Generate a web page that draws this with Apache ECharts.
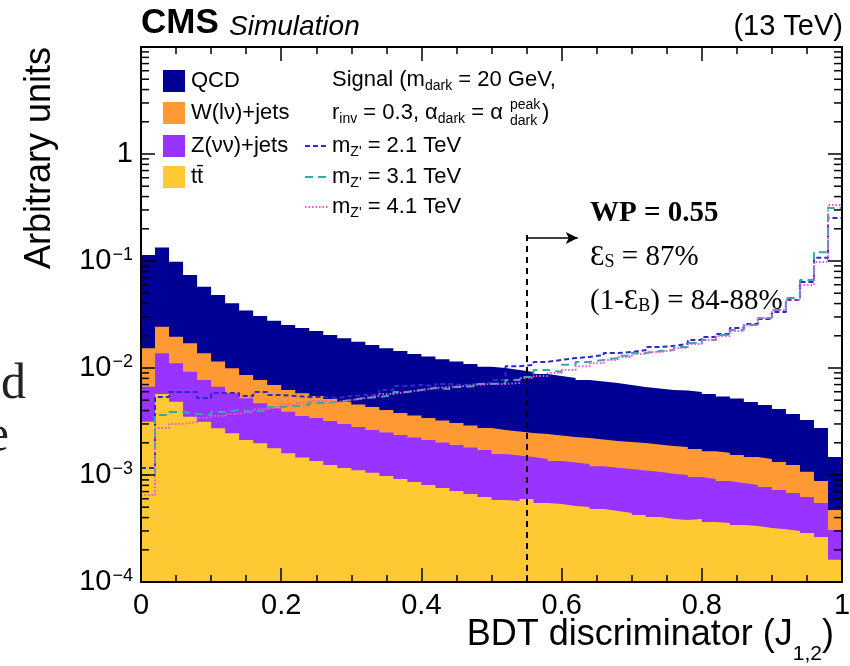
<!DOCTYPE html>
<html>
<head>
<meta charset="utf-8">
<title>BDT discriminator</title>
<script src="https://cdn.jsdelivr.net/npm/echarts@6/dist/echarts.min.js"></script>
<style>
  html, body { margin: 0; padding: 0; background: #fff; }
  #main { width: 850px; height: 666px; }
</style>
</head>
<body>
<div id="main"></div>
<script>
// 50 bins of width 0.02 between 0 and 1
var binWidth = 0.02;
var xTicks = [0, 0.2, 0.4, 0.6, 0.8, 1];
var yDecades = [-4, -3, -2, -1, 0, 1];

// stack heights (each one includes the layers below it)
var stackQCD = [0.114, 0.134, 0.0984, 0.0739, 0.0575, 0.0481, 0.0403, 0.0344, 0.0306, 0.0277,
  0.0252, 0.0237, 0.0222, 0.0203, 0.0190, 0.0176, 0.0164, 0.0153, 0.0144, 0.0135,
  0.0128, 0.0121, 0.0115, 0.0109, 0.0103, 0.0100, 0.00958, 0.00918, 0.00879, 0.00842,
  0.00807, 0.00773, 0.00748, 0.00724, 0.00694, 0.00665, 0.00643, 0.00622, 0.00617, 0.00597,
  0.00571, 0.00542, 0.00519, 0.00481, 0.00451, 0.00414, 0.00372, 0.00327, 0.00275, 0.00147];
var stackW = [0.0153, 0.0243, 0.0196, 0.0170, 0.0137, 0.0115, 0.00993, 0.00861, 0.00773, 0.00694,
  0.00622, 0.00581, 0.00547, 0.00513, 0.00481, 0.00456, 0.00432, 0.00405, 0.00379, 0.00360,
  0.00341, 0.00323, 0.00306, 0.00290, 0.00275, 0.00264, 0.00255, 0.00247, 0.00241, 0.00234,
  0.00226, 0.00222, 0.00215, 0.00208, 0.00203, 0.00199, 0.00193, 0.00187, 0.00183, 0.00175,
  0.00167, 0.00161, 0.00154, 0.00147, 0.00141, 0.00132, 0.00124, 0.00107, 0.000879, 0.000471];
var stackZ = [0.00668, 0.0137, 0.0111, 0.00922, 0.00773, 0.00668, 0.00581, 0.00521, 0.00468, 0.00420,
  0.00391, 0.00356, 0.00341, 0.00320, 0.00300, 0.00281, 0.00264, 0.00249, 0.00237, 0.00224,
  0.00212, 0.00201, 0.00191, 0.00181, 0.00171, 0.00157, 0.00152, 0.00147, 0.00141, 0.00135,
  0.00131, 0.00127, 0.00121, 0.00117, 0.00114, 0.00110, 0.00107, 0.00103, 0.00100, 0.000957,
  0.000918, 0.000879, 0.000842, 0.000807, 0.000773, 0.000725, 0.000680, 0.000622, 0.000547, 0.000306];
var stackTT = [0.00315, 0.00571, 0.00484, 0.00351, 0.00315, 0.00273, 0.00246, 0.00212, 0.00198, 0.00178,
  0.00160, 0.00146, 0.00135, 0.00124, 0.00116, 0.00111, 0.00105, 0.000980, 0.000918, 0.000861,
  0.000807, 0.000757, 0.000708, 0.000664, 0.000622, 0.000583, 0.000571, 0.000597, 0.000547, 0.000535,
  0.000513, 0.000503, 0.000481, 0.000461, 0.000442, 0.000423, 0.000405, 0.000388, 0.000379, 0.000388,
  0.000364, 0.000356, 0.000341, 0.000333, 0.000320, 0.000312, 0.000300, 0.000287, 0.000264, 0.000161];

// signal shapes
var sig21 = [0.00116, 0.00536, 0.00597, 0.00597, 0.00524, 0.00584, 0.00584, 0.00547, 0.00597, 0.00559,
  0.00547, 0.00536, 0.00536, 0.00524, 0.00547, 0.00559, 0.00559, 0.00623, 0.00679, 0.00694,
  0.00679, 0.00709, 0.00694, 0.00709, 0.00724, 0.00773, 0.0104, 0.0107, 0.0114, 0.0119,
  0.0124, 0.0127, 0.0132, 0.0138, 0.0141, 0.0147, 0.0157, 0.0161, 0.0168, 0.0183,
  0.0195, 0.0208, 0.0237, 0.0258, 0.0287, 0.0334, 0.0432, 0.0637, 0.107, 0.252];
var sig31 = [0.00100, 0.00364, 0.00388, 0.00372, 0.00364, 0.00388, 0.00405, 0.00388, 0.00405, 0.00432,
  0.00441, 0.00451, 0.00471, 0.00481, 0.00502, 0.00524, 0.00536, 0.00559, 0.00597, 0.00623,
  0.00650, 0.00636, 0.00664, 0.00679, 0.00709, 0.00724, 0.00773, 0.00824, 0.00958, 0.00918,
  0.0107, 0.0114, 0.0119, 0.0124, 0.0130, 0.0138, 0.0144, 0.0147, 0.0157, 0.0171,
  0.0183, 0.0203, 0.0227, 0.0252, 0.0293, 0.0348, 0.0451, 0.0665, 0.121, 0.313];
var sig41 = [0.00065, 0.00275, 0.00300, 0.00313, 0.00341, 0.00356, 0.00372, 0.00388, 0.00414, 0.00432,
  0.00451, 0.00471, 0.00492, 0.00481, 0.00502, 0.00524, 0.00547, 0.00572, 0.00597, 0.00623,
  0.00650, 0.00664, 0.00679, 0.00694, 0.00709, 0.00709, 0.00724, 0.00806, 0.00842, 0.00898,
  0.00958, 0.0104, 0.0111, 0.0119, 0.0127, 0.0135, 0.0141, 0.0147, 0.0154, 0.0168,
  0.0183, 0.0199, 0.0222, 0.0252, 0.0293, 0.0348, 0.0432, 0.0597, 0.0979, 0.334];

var wpCut = 0.55;

var colQCD = '#000094', colW = '#ff9933', colZ = '#9933ff', colTT = '#ffc933';
var colS21 = '#2b2bc8', colS31 = '#3aa7a7', colS41 = '#ee55dd';
var sans = 'Liberation Sans', serif = 'Liberation Serif';

function histPoints(vals) {
  var pts = [];
  for (var i = 0; i < vals.length; i++) pts.push([+(i * binWidth).toFixed(2), vals[i]]);
  pts.push([1, vals[vals.length - 1]]);
  return pts;
}

function filled(name, vals, color) {
  return {
    name: name, type: 'line', step: 'end', symbol: 'none', data: histPoints(vals),
    lineStyle: { width: 0 }, areaStyle: { color: color, opacity: 1, origin: 'start' }, z: 2
  };
}

function outline(name, vals, color, dash, width) {
  return {
    name: name, type: 'line', step: 'end', symbol: 'none', data: histPoints(vals),
    lineStyle: { color: color, width: width, type: dash }, z: 4
  };
}

// log minor tick positions (2..9 in each decade)
var minorTicks = [];
for (var d = 0; d < yDecades.length - 1; d++) {
  for (var m = 2; m <= 9; m++) minorTicks.push([0, m * Math.pow(10, yDecades[d])]);
}

var chart = echarts.init(document.getElementById('main'));

var tickStyle = { color: '#000', width: 1.5 };
var lineAxis = { show: true, onZero: false, lineStyle: { color: '#000', width: 2 } };
var legFont = '22px "Liberation Sans"';
var subRich = { s: { fontFamily: sans, fontSize: 14, fill: '#000', padding: [12, 0, 0, 0] } };
var serifSub = { s: { fontFamily: serif, fontSize: 18, fill: '#000', padding: [9, 0, 0, 0] } };

chart.setOption({
  animation: false,
  grid: { left: 141, right: 8, top: 47, bottom: 84, outerBoundsMode: 'none' },
  xAxis: [{
    type: 'value', min: 0, max: 1, interval: 0.2, position: 'bottom', z: 10,
    axisLine: lineAxis,
    axisTick: { inside: true, length: 14, lineStyle: tickStyle },
    minorTick: { show: true, splitNumber: 4, length: 7, lineStyle: tickStyle },
    splitLine: { show: false },
    axisLabel: {
      margin: 9, fontFamily: sans, fontSize: 29, color: '#000',
      formatter: function (v) { return xTicks.indexOf(+v.toFixed(1)) >= 0 ? String(+v.toFixed(1)) : ''; }
    }
  }, {
    type: 'value', min: 0, max: 1, interval: 0.2, position: 'top', z: 10,
    axisLine: lineAxis,
    axisTick: { inside: true, length: 14, lineStyle: tickStyle },
    minorTick: { show: true, splitNumber: 4, length: 7, lineStyle: tickStyle },
    splitLine: { show: false }, axisLabel: { show: false }
  }],
  yAxis: [{
    type: 'log', logBase: 10, min: 1e-4, max: 10, position: 'left', z: 10,
    axisLine: lineAxis,
    axisTick: { inside: true, length: 14, lineStyle: tickStyle },
    splitLine: { show: false },
    axisLabel: {
      margin: 8, color: '#000',
      formatter: function (v) {
        var e = Math.round(Math.log10(v));
        if (yDecades.indexOf(e) < 0 || e === 1) return '';
        if (e === 0) return '{b|1}';
        return '{b|10}{s|\u2212' + (-e) + '}';
      },
      rich: {
        b: { fontFamily: sans, fontSize: 29, color: '#000' },
        s: { fontFamily: sans, fontSize: 18, color: '#000', verticalAlign: 'top', padding: [0, 0, 12, 1] }
      }
    }
  }, {
    type: 'log', logBase: 10, min: 1e-4, max: 10, position: 'right', z: 10,
    axisLine: lineAxis,
    axisTick: { inside: true, length: 14, lineStyle: tickStyle },
    splitLine: { show: false }, axisLabel: { show: false }
  }],
  series: [
    filled('QCD', stackQCD, colQCD),
    filled('W(lv)+jets', stackW, colW),
    filled('Z(vv)+jets', stackZ, colZ),
    filled('ttbar', stackTT, colTT),
    outline('mZ = 2.1 TeV', sig21, colS21, [5, 3], 2),
    outline('mZ = 3.1 TeV', sig31, colS31, [8, 5], 2),
    outline('mZ = 4.1 TeV', sig41, colS41, [1.5, 2], 2),
    {
      name: 'WP', type: 'line', data: [], z: 6,
      markLine: {
        silent: true, animation: false, symbol: 'none',
        label: { show: false },
        lineStyle: { color: '#000', width: 2, type: [6, 5] },
        data: [
          [{ coord: [wpCut, 1e-4] }, { coord: [wpCut, 0.195] }],
          [{ coord: [wpCut, 0.164], symbol: 'none', lineStyle: { type: 'solid', width: 1.5 } },
           { coord: [0.623, 0.164], symbol: 'arrow', symbolSize: [9, 12], lineStyle: { type: 'solid', width: 1.5 } }]
        ]
      }
    },
    {
      name: 'minor ticks', type: 'custom', data: minorTicks, z: 12, silent: true,
      encode: { x: 0, y: 1 },
      renderItem: function (params, api) {
        var v = api.value(1);
        var l = api.coord([0, v]);
        var r = api.coord([1, v]);
        return {
          type: 'group', children: [
            { type: 'line', shape: { x1: l[0], y1: l[1], x2: l[0] + 8, y2: l[1] }, style: { stroke: '#000', lineWidth: 1.5 } },
            { type: 'line', shape: { x1: r[0], y1: r[1], x2: r[0] - 8, y2: r[1] }, style: { stroke: '#000', lineWidth: 1.5 } }
          ]
        };
      }
    }
  ],
  graphic: [
    // header
    { type: 'text', style: { x: 141, y: 41, text: 'CMS', font: 'bold 35px "Liberation Sans"', fill: '#000', textVerticalAlign: 'bottom' } },
    { type: 'text', style: { x: 229, y: 41, text: 'Simulation', font: 'italic 28px "Liberation Sans"', fill: '#000', textVerticalAlign: 'bottom' } },
    { type: 'text', style: { x: 843, y: 41, text: '(13 TeV)', font: '29px "Liberation Sans"', fill: '#000', textAlign: 'right', textVerticalAlign: 'bottom' } },
    // axis titles
    { type: 'text', x: 40, y: 158, rotation: Math.PI / 2,
      style: { x: 0, y: 0, text: 'Arbitrary units', font: '36px "Liberation Sans"', fill: '#000', textAlign: 'center', textVerticalAlign: 'middle' } },
    { type: 'text', style: { x: 834, y: 617, text: '{m|BDT discriminator (J}{s|1,2}{m|)}', textAlign: 'right', textVerticalAlign: 'top',
      rich: {
        m: { fontFamily: sans, fontSize: 36, fill: '#000', verticalAlign: 'top' },
        s: { fontFamily: sans, fontSize: 21, fill: '#000', verticalAlign: 'top', padding: [27, 0, 0, 0] }
      } } },
    // legend boxes
    { type: 'rect', shape: { x: 163, y: 70, width: 22, height: 22 }, style: { fill: colQCD } },
    { type: 'rect', shape: { x: 163, y: 102, width: 22, height: 22 }, style: { fill: colW } },
    { type: 'rect', shape: { x: 163, y: 135, width: 22, height: 22 }, style: { fill: colZ } },
    { type: 'rect', shape: { x: 163, y: 166, width: 22, height: 22 }, style: { fill: colTT } },
    { type: 'text', style: { x: 191, y: 81, text: 'QCD', font: legFont, fill: '#000', textVerticalAlign: 'middle' } },
    { type: 'text', style: { x: 191, y: 113, text: 'W(l\u03bd)+jets', font: legFont, fill: '#000', textVerticalAlign: 'middle' } },
    { type: 'text', style: { x: 191, y: 146, text: 'Z(\u03bd\u03bd)+jets', font: legFont, fill: '#000', textVerticalAlign: 'middle' } },
    { type: 'text', style: { x: 191, y: 177, text: 't\u0074\u0304', font: legFont, fill: '#000', textVerticalAlign: 'middle' } },
    // signal legend
    { type: 'text', style: { x: 332, y: 80, text: 'Signal (m{s|dark} = 20 GeV,', font: legFont, fill: '#000', textVerticalAlign: 'middle', rich: subRich } },
    { type: 'text', style: { x: 332, y: 113, text: 'r{s|inv} = 0.3, \u03b1{s|dark} = \u03b1', font: legFont, fill: '#000', textVerticalAlign: 'middle', rich: subRich } },
    { type: 'text', style: { x: 510, y: 105, text: 'peak', font: '14px "Liberation Sans"', fill: '#000', textVerticalAlign: 'middle' } },
    { type: 'text', style: { x: 510, y: 121, text: 'dark', font: '14px "Liberation Sans"', fill: '#000', textVerticalAlign: 'middle' } },
    { type: 'text', style: { x: 542, y: 113, text: ')', font: legFont, fill: '#000', textVerticalAlign: 'middle' } },
    { type: 'line', shape: { x1: 305, y1: 146, x2: 329, y2: 146 }, style: { stroke: colS21, lineWidth: 2, lineDash: [5, 3] } },
    { type: 'line', shape: { x1: 305, y1: 177, x2: 329, y2: 177 }, style: { stroke: colS31, lineWidth: 2, lineDash: [8, 5] } },
    { type: 'line', shape: { x1: 305, y1: 207, x2: 329, y2: 207 }, style: { stroke: colS41, lineWidth: 2, lineDash: [1.5, 2] } },
    { type: 'text', style: { x: 332, y: 146, text: 'm{s|Z\'} = 2.1 TeV', font: legFont, fill: '#000', textVerticalAlign: 'middle', rich: subRich } },
    { type: 'text', style: { x: 332, y: 177, text: 'm{s|Z\'} = 3.1 TeV', font: legFont, fill: '#000', textVerticalAlign: 'middle', rich: subRich } },
    { type: 'text', style: { x: 332, y: 207, text: 'm{s|Z\'} = 4.1 TeV', font: legFont, fill: '#000', textVerticalAlign: 'middle', rich: subRich } },
    // working point annotation
    { type: 'text', style: { x: 590, y: 228, text: 'WP = 0.55', font: 'bold 29px "Liberation Serif"', fill: '#000', textVerticalAlign: 'bottom' } },
    { type: 'text', style: { x: 590, y: 272, text: '\u0190{s|S} = 87%', font: '29px "Liberation Serif"', fill: '#000', textVerticalAlign: 'bottom', rich: serifSub } },
    { type: 'text', style: { x: 590, y: 316, text: '(1-\u0190{s|B}) = 84-88%', font: '29px "Liberation Serif"', fill: '#000', textVerticalAlign: 'bottom', rich: serifSub } },
    // clipped slide text on the left edge
    { type: 'text', style: { x: 26, y: 410, text: 'd', font: '50px "Liberation Serif"', fill: '#222', textAlign: 'right', textVerticalAlign: 'bottom' } },
    { type: 'text', style: { x: 9, y: 462, text: 'e', font: '50px "Liberation Serif"', fill: '#222', textAlign: 'right', textVerticalAlign: 'bottom' } }
  ]
});
</script>
</body>
</html>
